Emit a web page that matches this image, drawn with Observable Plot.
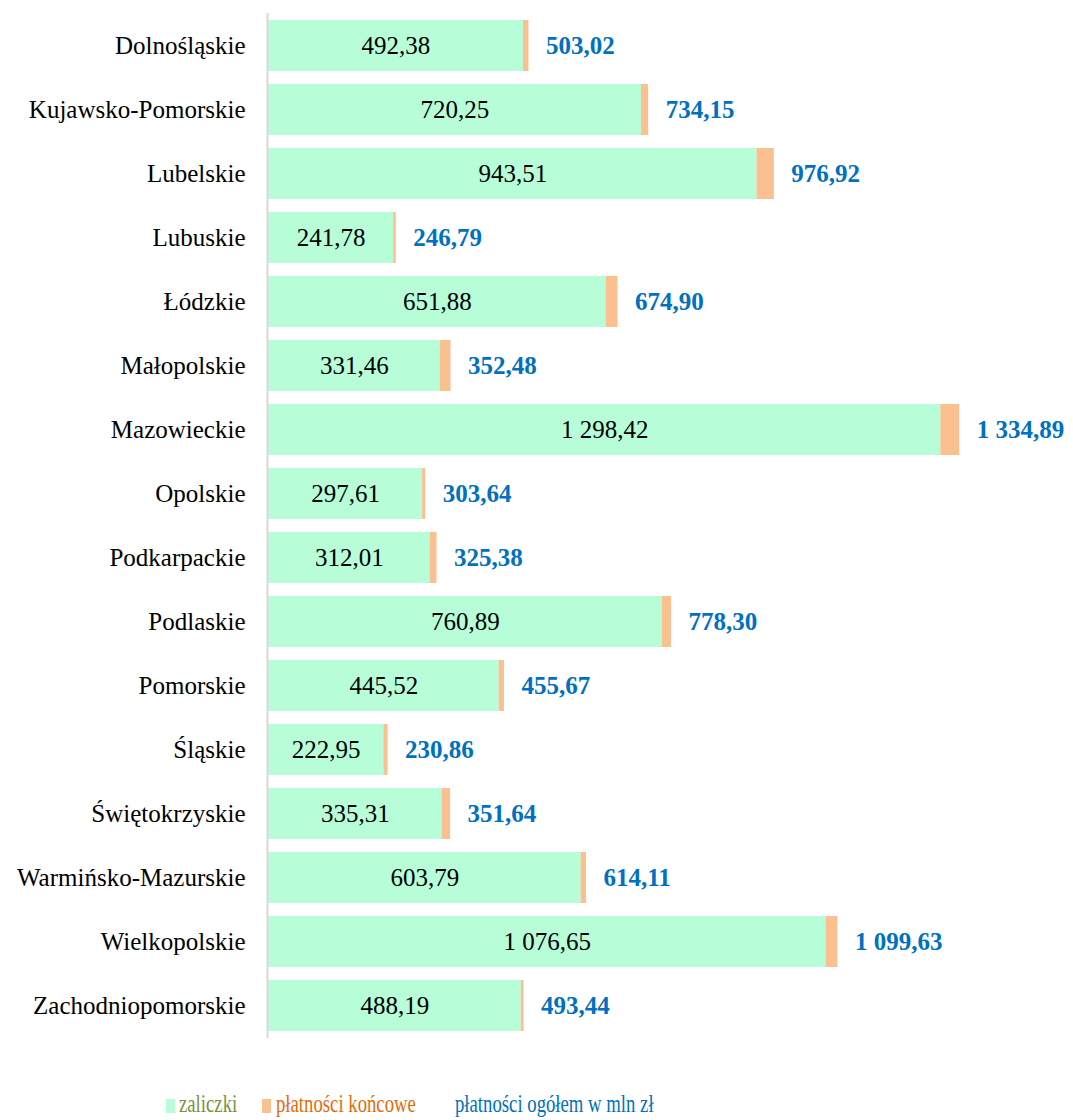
<!DOCTYPE html>
<html>
<head>
<meta charset="utf-8">
<script src="https://cdn.jsdelivr.net/npm/d3@7"></script>
<script src="https://cdn.jsdelivr.net/npm/@observablehq/plot@0.6"></script>
<style>
  body { margin: 0; background: #fff; width: 1073px; height: 1120px; position: relative; overflow: hidden; }
  #chart { position: absolute; left: 0; top: 0; }
  .lg { position: absolute; font-family: "Liberation Serif", serif; font-size: 26px; line-height: 1; white-space: nowrap; transform: scaleX(0.72); transform-origin: left top; }
  .sw { position: absolute; width: 9px; height: 14px; }
</style>
</head>
<body>
<div id="chart"></div>
<div class="sw" style="left:166px; top:1099px; background:#b6fdd8;"></div>
<div class="lg" style="left:179px; top:1091px; color:#77933C;">zaliczki</div>
<div class="sw" style="left:262px; top:1099px; background:#fac090;"></div>
<div class="lg" style="left:276px; top:1091px; color:#E46C0A;">płatności końcowe</div>
<div class="lg" style="left:455px; top:1091px; color:#0070C0;">płatności ogółem w mln zł</div>
<script>
const regions = ["Dolnośląskie","Kujawsko-Pomorskie","Lubelskie","Lubuskie","Łódzkie","Małopolskie","Mazowieckie","Opolskie","Podkarpackie","Podlaskie","Pomorskie","Śląskie","Świętokrzyskie","Warmińsko-Mazurskie","Wielkopolskie","Zachodniopomorskie"];
const zaliczki = [492.38,720.25,943.51,241.78,651.88,331.46,1298.42,297.61,312.01,760.89,445.52,222.95,335.31,603.79,1076.65,488.19];
const ogolem = [503.02,734.15,976.92,246.79,674.90,352.48,1334.89,303.64,325.38,778.30,455.67,230.86,351.64,614.11,1099.63,493.44];

const data = regions.map((r, i) => ({region: r, zal: zaliczki[i], total: ogolem[i]}));
const fmt = v => { const [a, b] = v.toFixed(2).split("."); return a.replace(/\B(?=(\d{3})+(?!\d))/g, " ") + "," + b; };

const chart = Plot.plot({
  width: 1073,
  height: 1040,
  marginTop: 13,
  marginBottom: 2,
  marginLeft: 268,
  marginRight: 2.4,
  style: {fontFamily: "Liberation Serif, serif", fontSize: "25px", color: "#000", background: "#fff"},
  x: {domain: [0, 1550], axis: null},
  y: {domain: regions, paddingInner: 0.2, paddingOuter: 0.1, label: null},
  marks: [
    Plot.barX(data, {y: "region", x1: 0, x2: "zal", fill: "#b6fdd8"}),
    Plot.barX(data, {y: "region", x1: "zal", x2: "total", fill: "#fac090"}),
    Plot.ruleX([0], {stroke: "#d9d9d9", strokeWidth: 2, dx: -1}),
    Plot.axisY({tickSize: 0, tickPadding: 23, fontSize: 25, label: null}),
    Plot.text(data, {y: "region", x: d => d.zal / 2, text: d => fmt(d.zal), fill: "#000", fontSize: 25}),
    Plot.text(data, {y: "region", x: "total", text: d => fmt(d.total), textAnchor: "start", dx: 17, fill: "#0070C0", fontWeight: "bold", fontSize: 25})
  ]
});
document.getElementById("chart").appendChild(chart);
</script>
</body>
</html>
